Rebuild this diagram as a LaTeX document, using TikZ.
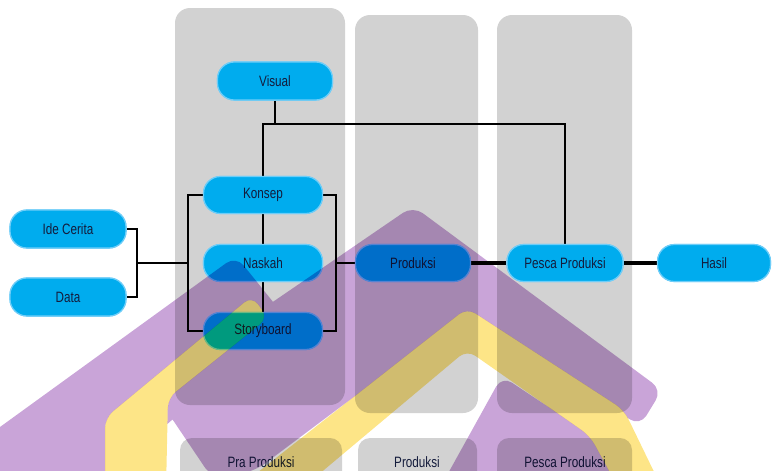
\documentclass[tikz,border=0pt]{standalone}
\usepackage{fontspec}
\setmainfont{Liberation Sans}[FakeStretch=0.78]
\definecolor{colgray}{RGB}{210,210,210}
\definecolor{nodeblue}{RGB}{0,172,238}
\definecolor{halo}{RGB}{110,205,248}
\definecolor{txt}{RGB}{20,28,60}
\definecolor{wmP}{RGB}{201,164,216}
\definecolor{wmY}{RGB}{253,229,135}
\begin{document}
\begin{tikzpicture}[x=1pt,y=-1pt,
  column/.style={fill=colgray,rounded corners=15pt},
  pill/.style={draw=halo,line width=1.2pt,fill=nodeblue,rounded corners=17pt,minimum width=116pt,minimum height=37pt,inner sep=0pt,text=txt,font=\fontsize{15}{15}\selectfont},
  labtext/.style={text=txt,font=\fontsize{15}{15}\selectfont},
  conn/.style={draw=black,line width=2.4pt},
  thickconn/.style={draw=black,line width=3.4pt}]
\useasboundingbox (0,0) rectangle (772,471);
% columns
\fill[column] (175,8) rectangle (345,405);
\fill[column] (355,15) rectangle (478,413);
\fill[column] (497,15) rectangle (632,413);
% bottom labels
\fill[column,rounded corners=12pt] (180,438) rectangle (342,495);
\fill[column,rounded corners=12pt] (358,438) rectangle (477,495);
\fill[column,rounded corners=12pt] (497,438) rectangle (632,495);
\node[labtext] (lpra) at (261,462) {Pra Produksi};
\node[labtext] (lprod) at (417,462) {Produksi};
\node[labtext] (lpesca) at (565,462) {Pesca Produksi};
% junctions
\coordinate (j1) at (137,263);
\coordinate (j2) at (188,263);
\coordinate (j3) at (336,263);
\coordinate (j4) at (275,124);
% node anchors
\path
  (275,81) node[pill,minimum width=115pt,minimum height=38pt] (visual) {}
  (263,195) node[pill,minimum width=119pt] (konsep) {}
  (263,263) node[pill,minimum width=119pt] (naskah) {}
  (263,331) node[pill,minimum width=119pt] (story) {}
  (68,229) node[pill,minimum height=38pt] (ide) {}
  (68,297) node[pill,minimum height=38pt] (data) {}
  (413,263) node[pill,minimum width=115pt] (prod) {}
  (565,263) node[pill] (pesca) {}
  (714,263) node[pill,minimum width=113pt] (hasil) {};
% connectors
\draw[conn] (ide.east) -| (j1) |- (data.east);
\draw[conn] (j1) -- (j2);
\draw[conn] (konsep.west) -| (j2) |- (story.west);
\draw[conn] (konsep.south) -- (naskah.north);
\draw[conn] (naskah.south) -- (story.north);
\draw[conn] (konsep.east) -| (j3) |- (story.east);
\draw[conn] (j3) -- (prod.west);
\draw[thickconn] (prod.east) -- (pesca.west);
\draw[thickconn] (pesca.east) -- (hasil.west);
\draw[conn] (visual.south) -- (j4);
\draw[conn] (konsep.north) |- (pesca.north |- j4) -- (pesca.north);
% node faces on top of connectors
\node[pill,minimum width=115pt,minimum height=38pt] at (visual) {Visual};
\node[pill,minimum width=119pt] at (konsep) {Konsep};
\node[pill,minimum width=119pt] at (naskah) {Naskah};
\node[pill,minimum width=119pt] at (story) {Storyboard};
\node[pill,minimum height=38pt] at (ide) {Ide Cerita};
\node[pill,minimum height=38pt] at (data) {Data};
\node[pill,minimum width=115pt] at (prod) {Produksi};
\node[pill] at (pesca) {Pesca Produksi};
\node[pill,minimum width=113pt] at (hasil) {Hasil};
% watermark
\begin{scope}
\clip (0,0) rectangle (772,471);
\begin{scope}[even odd rule,rounded corners=10pt]
\clip (-50,-50) -- (820,-50) -- (820,520) -- (-50,520) -- cycle
  (467,308) -- (624,410) -- (658,480) -- (614,480) -- (590,436) -- (467,350) -- (312,480) -- (248,480) -- cycle
  (105,490) -- (105,418) -- (252,296) -- (268,318) -- (168,398) -- (166,490) -- cycle;
\fill[wmP,blend mode=multiply,nonzero rule,rounded corners=12pt]
  (-40,456) -- (236,256) -- (286,318) -- (60,520) -- cycle
  (413,206) -- (662,390) -- (640,426) -- (467,312) -- (255,471) -- (212,478) -- (150,386) -- cycle
  (502,376) -- (710,515) -- (425,515) -- cycle;
\end{scope}
\fill[wmY,blend mode=multiply,rounded corners=10pt]
  (467,308) -- (624,410) -- (658,480) -- (614,480) -- (590,436) -- (467,350) -- (312,480) -- (248,480) -- cycle
  (105,490) -- (105,418) -- (252,296) -- (268,318) -- (168,398) -- (166,490) -- cycle;
\end{scope}
\end{tikzpicture}
\end{document}
